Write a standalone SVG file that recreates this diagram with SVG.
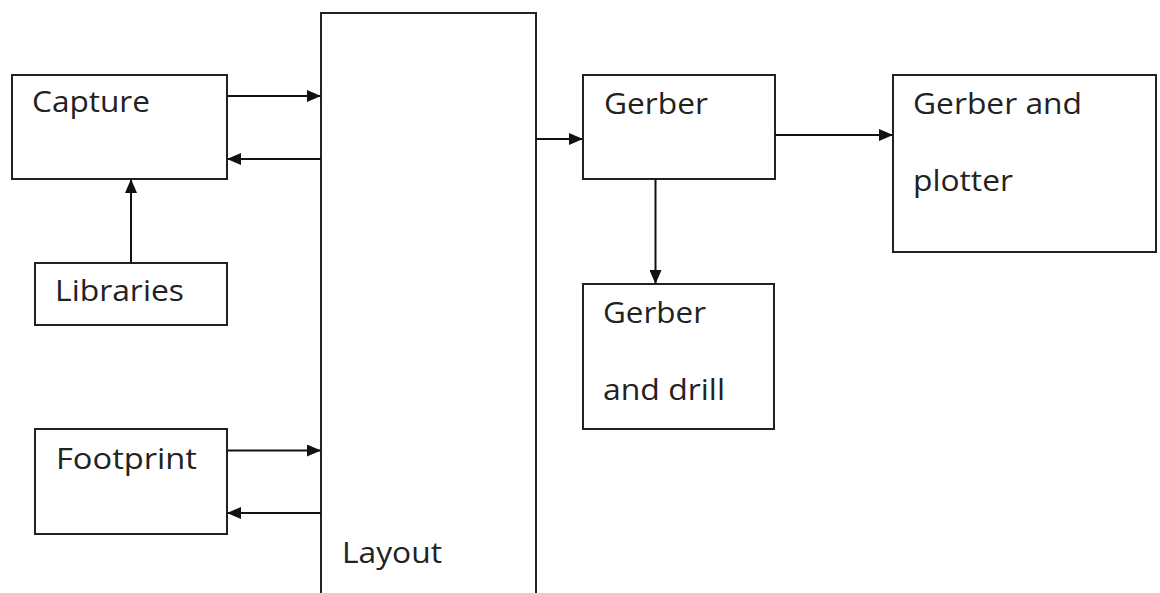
<svg xmlns="http://www.w3.org/2000/svg" width="1160" height="593" viewBox="0 0 1160 593">
<style>
.box{fill:#fff;stroke:#222;stroke-width:2}
.t{font-family:"Open Sans","Noto Sans",sans-serif;font-size:29px;fill:#222}
.c{stroke:#111;stroke-width:2;fill:none}
</style>
<defs>
<marker id="ah" markerWidth="14" markerHeight="12" refX="13" refY="6" orient="auto" markerUnits="userSpaceOnUse">
<path d="M0,0 L14,6 L0,12 Z" fill="#111"/>
</marker>
</defs>
<rect width="1160" height="593" fill="#fff"/>
<g id="layout">
<path class="box" d="M321,600 V13 H536 V600"/>
<text class="t" x="342" y="562.5" textLength="100" lengthAdjust="spacingAndGlyphs">Layout</text>
</g>
<g id="capture">
<rect class="box" x="12" y="75" width="215" height="104"/>
<text class="t" x="32" y="112" textLength="118" lengthAdjust="spacingAndGlyphs">Capture</text>
</g>
<g id="libraries">
<rect class="box" x="35" y="263" width="192" height="62"/>
<text class="t" x="55" y="300.5" textLength="129" lengthAdjust="spacingAndGlyphs">Libraries</text>
</g>
<g id="footprint">
<rect class="box" x="35" y="429" width="192" height="105"/>
<text class="t" x="56" y="469" textLength="141" lengthAdjust="spacingAndGlyphs">Footprint</text>
</g>
<g id="gerber">
<rect class="box" x="583" y="75" width="192" height="104"/>
<text class="t" x="604" y="114" textLength="104" lengthAdjust="spacingAndGlyphs">Gerber</text>
</g>
<g id="gerber-plotter">
<rect class="box" x="893" y="75" width="263" height="177"/>
<text class="t" x="913" y="114" textLength="169" lengthAdjust="spacingAndGlyphs">Gerber and</text>
<text class="t" x="913" y="191" textLength="100" lengthAdjust="spacingAndGlyphs">plotter</text>
</g>
<g id="gerber-drill">
<rect class="box" x="583" y="284" width="191" height="145"/>
<text class="t" x="603" y="322.5" textLength="103" lengthAdjust="spacingAndGlyphs">Gerber</text>
<text class="t" x="603" y="400" textLength="122" lengthAdjust="spacingAndGlyphs">and drill</text>
</g>
<g id="connectors">
<line class="c" x1="227" y1="96" x2="320" y2="96" marker-end="url(#ah)"/>
<line class="c" x1="321" y1="159" x2="228" y2="159" marker-end="url(#ah)"/>
<line class="c" x1="131" y1="263" x2="131" y2="180" marker-end="url(#ah)"/>
<line class="c" x1="227" y1="450.5" x2="320" y2="450.5" marker-end="url(#ah)"/>
<line class="c" x1="321" y1="513" x2="228" y2="513" marker-end="url(#ah)"/>
<line class="c" x1="536" y1="139" x2="582" y2="139" marker-end="url(#ah)"/>
<line class="c" x1="775" y1="135" x2="892" y2="135" marker-end="url(#ah)"/>
<line class="c" x1="655.5" y1="179" x2="655.5" y2="283" marker-end="url(#ah)"/>
</g>
</svg>
